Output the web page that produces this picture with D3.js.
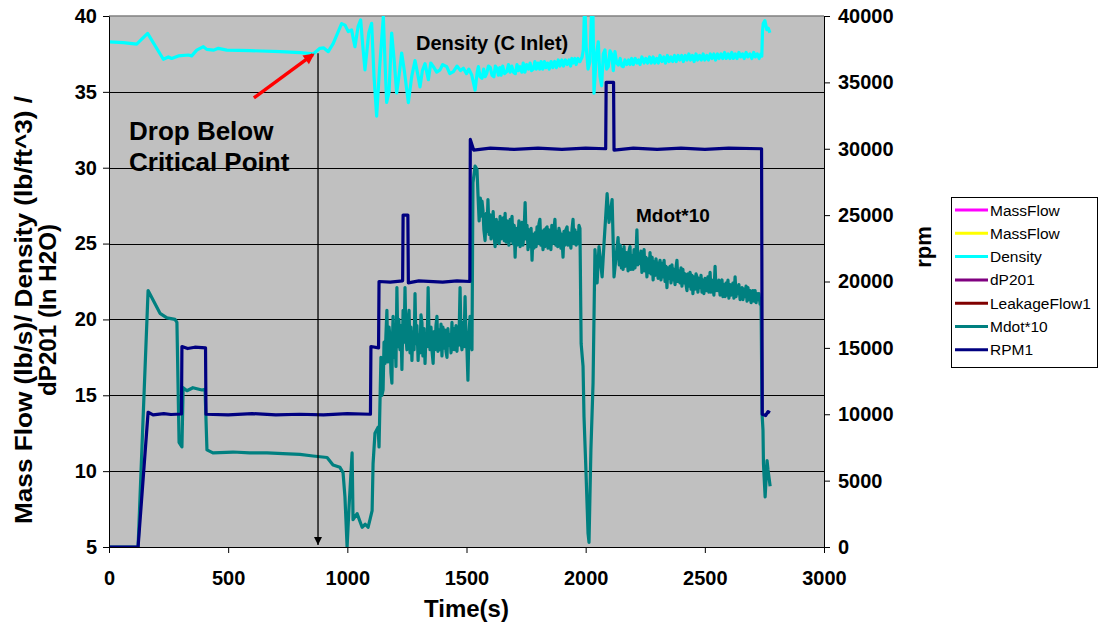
<!DOCTYPE html>
<html>
<head>
<meta charset="utf-8">
<script src="https://cdn.jsdelivr.net/npm/d3@7"></script>
<style>
  body { margin: 0; background: #fff; }
  text { font-family: "Liberation Sans", Arial, sans-serif; }
</style>
</head>
<body>
<svg id="chart"></svg>
<script>
// Chart size
const width = 1099;
const height = 628;
const margin = { top: 16, right: 275, bottom: 81, left: 109 };

// Axis ticks
const xTicks = [0, 500, 1000, 1500, 2000, 2500, 3000];
const leftTicks = [5, 10, 15, 20, 25, 30, 35, 40];
const rightTicks = [0, 5000, 10000, 15000, 20000, 25000, 30000, 35000, 40000];

// Legend entries (only Density, Mdot*10 and RPM1 show up in the plot)
const legendNames = ["MassFlow", "MassFlow", "Density", "dP201", "LeakageFlow1", "Mdot*10", "RPM1"];
const legendColors = ["#ff00ff", "#ffff00", "#00ffff", "#800080", "#800000", "#008080", "#000080"];

// Density (C Inlet), lb/ft^3 - [time, value]
const density = [[1,38.3],[60,38.25],[116,38.15],[162,38.85],[228,37.15],[249,37.3],[263,37.2],[291,37.37],[333,37.43],[347,37.37],[368,37.75],[396,37.98],[410,37.8],[438,37.75],[459,37.87],[494,37.75],[592,37.72],[718,37.65],[802,37.58],[857,37.5],[885,37.87],[900,37.9],[920,37.65],[941,38.2],[976,39.5],[990,39.4],[1004,38.97],[1018,39.08],[1025,38.5],[1032,37.98],[1045,39.3],[1056,39.74],[1065,38.0],[1074,36.45],[1090,38.9],[1102,39.52],[1112,36.0],[1123,33.4],[1135,36.5],[1151,39.96],[1158,37.0],[1165,34.3],[1175,35.0],[1186,38.88],[1197,37.0],[1207,34.93],[1218,36.2],[1228,37.56],[1240,36.3],[1256,34.29],[1270,36.0],[1284,37.06],[1295,36.2],[1305,35.33],[1315,36.4],[1326,36.86],[1340,35.8],[1350,36.9],[1361,36.66],[1375,36.3],[1389,36.45],[1400,36.8],[1417,36.66],[1430,36.2],[1445,36.33],[1460,36.7],[1475,36.4],[1487,36.56],[1500,36.2],[1510,36.5],[1522,36.11],[1536,35.12],[1545,36.3],
  [1550,36.66],[1557,36.0],[1565,35.9],[1572,36.5],[1578,36.0],[1585,36.23],[1592,36.7],[1600,36.6],[1607,36.1],[1615,36.0],[1621,36.7],[1627,36.56],[1634,36.1],[1640,36.6],[1645,36.1],[1652,36.7],[1660,36.2],[1669,36.33],[1676,36.8],[1683,36.3],[1690,36.7],[1697,36.3],[1705,36.2],[1712,36.8],[1718,36.4],[1725,36.66],[1732,36.3],[1738,36.9],[1745,36.3],[1752,36.8],[1760,36.5],[1767,36.9],[1773,36.4],[1780,36.5],[1787,37.0],[1793,36.5],[1800,36.9],[1807,36.5],[1813,37.0],[1820,36.5],[1827,37.0],[1833,36.6],[1840,36.9],[1847,36.5],[1855,37.0],[1862,36.6],[1870,37.0],[1877,36.6],[1885,37.1],[1892,36.7],[1900,37.1],[1907,36.7],[1915,37.1],[1922,36.8],[1930,37.1],[1937,36.7],[1942,37.2],[1948,36.9],[1955,37.2],[1960,36.8],[1968,37.2],[1976,36.99],[1985,37.3],[1990,37.76],
  [1996,41],[2002,38.0],[2010,36.5],[2018,37.0],[2026,41],[2030,41],[2035,34.91],[2045,37.5],[2053,38.3],[2060,36.0],[2067,35.4],[2074,37.5],[2081,37.76],[2088,36.5],[2095,36.66],[2102,37.7],[2109,37.5],[2116,36.4],[2123,37.65],
  [2130,36.9],[2137,36.77],[2145,37.2],[2152,36.7],[2158,36.66],[2165,37.1],[2172,36.8],[2180,37.1],[2186,36.8],[2193,37.2],[2200,36.8],[2208,37.2],[2215,36.9],[2222,37.1],[2228,36.8],[2236,37.3],[2245,36.9],[2252,37.2],[2260,36.9],[2268,37.3],[2275,36.9],[2283,37.3],[2290,36.9],[2298,37.2],[2305,36.9],[2312,37.4],[2320,37.0],[2328,37.3],[2335,36.9],[2343,37.4],[2350,37.0],[2358,37.3],[2365,37.0],[2373,37.4],[2380,37.0],[2388,37.4],[2395,37.1],[2403,37.4],[2410,37.0],[2418,37.4],[2425,37.1],[2433,37.5],[2440,37.1],[2448,37.4],[2455,37.0],[2463,37.5],[2470,37.1],[2478,37.4],[2485,37.1],[2493,37.5],[2500,37.1],[2508,37.4],[2515,37.1],[2523,37.5],[2530,37.2],[2538,37.5],[2545,37.1],[2553,37.5],[2560,37.2],[2568,37.5],[2575,37.2],[2583,37.6],[2590,37.2],[2598,37.5],[2605,37.2],[2613,37.6],[2620,37.2],[2628,37.5],[2635,37.2],[2643,37.6],[2650,37.3],[2658,37.5],[2665,37.2],[2673,37.6],[2680,37.3],[2689,37.5],[2697,37.2],[2705,37.6],[2712,37.3],[2720,37.5],[2728,37.2],[2735,37.5],[2739,37.35],
  [2742,39.0],[2745,39.5],[2752,39.7],[2760,39.1],[2766,39.2],[2773,38.9]];

// Mdot*10 - [time, value]
const mdot = [[0,5],[122,5],[164,21.9],[214,20.4],[243,20.1],[277,20.0],[285,19.8],[294,11.9],[306,11.6],[311,15.5],[327,15.3],[352,15.5],[390,15.35],[403,15.4],[411,11.4],[436,11.2],[520,11.26],[590,11.2],[663,11.2],[730,11.15],[801,11.1],[856,11.0],[915,10.9],[940,10.4],[969,10.25],[982,9.9],[990,8.3],[999,5.0],[1007,7.6],[1020,11.2],[1024,6.8],[1041,7.2],[1062,6.3],[1075,6.5],[1087,6.3],[1095,6.8],[1104,7.4],[1108,10.5],[1116,12.5],[1129,12.9],[1133,11.6],
  [1141,17.5],[1145,15.0],[1150,15.35],[1154,18.5],[1158,17.1],[1162,19.0],[1166,20.6],[1170,17.2],[1175,19.5],[1179,18.8],[1183,16.5],[1187,15.8],[1190,19.0],[1192,20.2],[1196,17.5],[1200,19.2],[1204,16.9],[1208,22.1],[1212,18.2],[1216,20.0],[1221,18.0],[1225,19.6],[1229,16.7],[1234,20.6],[1238,18.5],[1242,22.1],[1246,18.8],[1250,18.0],[1254,19.8],[1259,20.6],[1263,17.8],[1267,19.5],[1271,17.3],[1275,19.2],[1280,18.0],[1284,21.7],[1288,18.4],[1292,19.6],[1297,17.3],[1301,19.0],[1305,17.8],[1309,20.3],[1313,19.8],[1317,17.6],[1322,19.4],[1326,17.1],[1330,19.0],[1335,18.2],[1339,22.1],[1343,18.9],[1347,18.0],[1351,19.5],[1356,17.8],[1360,17.1],[1364,19.2],[1368,18.0],[1372,19.6],[1376,20.2],[1380,17.9],[1385,19.3],[1389,18.0],[1393,19.7],[1397,17.6],[1401,19.5],[1405,18.1],[1410,19.3],[1414,17.9],[1418,17.5],[1422,19.4],[1427,18.3],[1431,19.0],[1435,17.8],[1439,19.8],[1443,18.0],[1448,19.4],[1452,18.0],[1456,19.6],[1460,17.9],[1464,19.2],[1468,18.3],[1473,22.1],[1477,18.6],[1481,18.0],[1485,19.8],[1489,18.2],[1494,21.5],[1498,18.7],[1502,18.0],[1506,16.0],[1510,19.0],[1515,20.2],[1519,18.5],[1523,18.0],
  [1527,29.0],[1536,30.1],[1544,29.9],
  [1548,28.3],[1553,26.5],[1558,28.0],[1561,26.8],[1565,27.8],[1569,27.2],[1573,25.9],[1578,25.2],[1583,27.0],[1586,25.8],[1590,27.9],[1595,25.6],[1600,26.9],[1603,25.3],[1607,26.1],[1612,27.1],[1616,25.5],[1620,24.8],[1625,26.6],[1628,25.1],[1632,26.4],[1637,25.0],[1641,26.8],[1645,25.3],[1649,25.4],[1654,26.7],[1658,25.2],[1662,27.0],[1666,25.1],[1670,26.5],[1674,25.9],[1678,24.9],[1683,26.6],[1687,25.2],[1691,26.8],[1695,25.0],[1700,26.2],[1704,24.1],[1708,26.0],[1712,24.9],[1716,25.4],[1720,26.5],[1725,24.8],[1729,26.1],[1733,26.4],[1737,24.9],[1742,26.0],[1746,27.7],[1750,25.3],[1754,26.2],[1758,24.6],[1762,25.9],[1767,24.8],[1771,26.0],[1775,23.9],[1779,25.6],[1783,24.7],[1788,25.7],[1792,24.8],[1796,26.1],[1800,25.0],[1804,26.3],[1808,26.6],[1812,24.9],[1816,25.8],[1821,24.6],[1825,25.9],[1829,24.8],[1833,26.0],[1838,26.1],[1842,24.7],[1846,25.9],[1850,25.4],[1854,24.6],[1858,26.2],[1862,25.0],[1867,25.9],[1871,26.6],[1875,24.9],[1879,25.8],[1883,24.8],[1888,26.0],[1892,25.7],[1896,24.7],[1900,25.6],[1905,24.1],[1909,25.8],[1913,24.9],[1917,25.9],[1922,26.1],[1926,24.9],[1930,25.7],[1934,25.2],[1938,24.7],[1943,26.0],[1947,26.6],[1951,25.0],[1955,25.9],[1960,24.9],[1964,25.7],[1968,25.0],[1972,26.2],[1976,26.0],
  [1981,18.4],[1989,16.9],[1993,13.6],[2001,10.1],[2010,5.9],[2014,5.3],[2022,11.4],[2031,15.8],[2039,24.6],[2048,22.4],[2056,24.8],[2069,22.8],[2077,25.0],[2090,28.3],[2098,26.4],[2111,27.9],[2119,22.8],[2132,24.8],
  [2136,25.4],[2141,23.6],[2145,24.9],[2150,23.4],[2153,24.6],[2157,23.3],[2161,24.8],[2165,23.5],[2170,24.4],[2174,24.1],[2178,23.2],[2182,24.5],[2186,24.8],[2190,23.3],[2195,24.2],[2199,23.3],[2203,24.6],[2207,23.4],[2211,24.2],[2215,25.9],[2219,23.6],[2224,24.3],[2228,23.7],[2232,24.5],[2236,23.1],[2241,23.9],[2245,24.6],[2249,23.2],[2253,24.1],[2257,22.8],[2262,24.0],[2266,23.1],[2270,24.4],[2274,23.0],[2279,24.1],[2283,22.6],[2287,23.8],[2291,22.9],[2295,24.0],[2299,23.5],[2304,22.7],[2308,23.6],[2312,23.9],[2316,22.6],[2321,23.7],[2325,22.8],[2329,23.9],[2333,22.5],[2337,23.5],[2341,22.1],[2345,23.4],[2350,22.7],[2354,23.5],[2358,22.4],[2362,23.6],[2366,22.6],[2370,23.3],[2375,22.3],[2379,23.4],[2383,23.9],[2387,22.5],[2391,23.2],[2396,22.4],[2400,23.4],[2404,22.2],[2408,23.3],[2412,22.4],[2417,23.0],[2421,22.3],[2425,21.9],[2429,23.0],[2433,22.2],[2438,23.1],[2442,22.0],[2446,22.9],[2450,21.7],[2454,22.8],[2459,22.0],[2463,23.0],[2467,22.8],[2471,21.8],[2475,22.7],[2480,22.1],[2484,22.9],[2488,21.8],[2492,22.6],[2496,21.7],[2501,22.7],[2505,21.9],[2509,21.9],[2513,22.8],[2517,21.8],[2522,23.1],[2526,21.8],[2530,22.6],[2534,22.1],[2538,21.6],[2543,23.5],[2547,21.9],[2551,22.5],[2555,21.9],[2559,22.6],[2564,21.6],[2568,22.4],[2572,22.6],[2576,21.5],[2580,22.3],[2585,21.5],[2589,22.4],[2593,21.6],[2597,22.6],[2601,21.4],[2606,22.3],[2610,21.6],[2614,21.7],[2618,22.4],[2622,21.4],[2627,22.8],[2631,21.5],[2635,22.2],[2639,21.7],[2643,22.3],[2648,21.3],[2652,22.0],[2656,22.1],[2660,21.3],[2664,22.0],[2669,21.5],[2673,22.2],[2677,21.2],[2681,22.1],[2685,21.3],[2690,21.9],[2694,21.1],[2698,21.5],[2702,21.9],[2706,21.2],[2711,21.9],[2715,21.1],[2719,21.7],[2723,21.3],[2727,21.7],[2732,21.0],[2736,21.1],
  [2740,13.8],[2744,12.7],[2746,10.5],[2753,8.3],[2761,10.7],[2765,10.1],[2774,9.0]];

// RPM1 (right axis) - [time, rpm]
const rpm = [[0,0],[122,0],[164,10150],[185,9950],[230,10050],[260,9980],[304,10020],[306,15100],[330,14950],[360,15050],[405,15000],[407,10000],[500,9950],[600,10050],[700,9950],[800,10000],[900,9950],[1000,10050],[1097,10000],[1099,15100],[1131,15000],[1133,20000],[1180,19950],[1232,20050],[1234,25000],[1254,25000],[1256,19900],[1300,20050],[1400,19950],[1460,20050],[1514,20000],[1516,30700],[1530,29900],[1600,30050],[1700,29950],[1800,30050],[1900,29950],[2000,30050],[2084,30000],[2086,35000],[2117,35000],[2119,29900],[2200,30050],[2300,29950],[2400,30050],[2500,29950],[2600,30050],[2738,30000],[2741,10000],[2755,9900],[2765,10200],[2773,10100]];

// Annotation anchors in data units
const dropTime = 877;
const dropTop = 37.55;
const redArrowFrom = [608, 34.6];
const redArrowTo = [855, 37.45];

const svg = d3.select("#chart").attr("width", width).attr("height", height);

const x = d3.scaleLinear().domain([0, 3000]).range([margin.left, width - margin.right]);
const yL = d3.scaleLinear().domain([5, 40]).range([height - margin.bottom, margin.top]);
const yR = d3.scaleLinear().domain([0, 40000]).range([height - margin.bottom, margin.top]);

const plotLeft = x.range()[0], plotRight = x.range()[1];
const plotTop = yL.range()[1], plotBottom = yL.range()[0];

// Plot background
svg.append("rect")
    .attr("x", plotLeft).attr("y", plotTop)
    .attr("width", plotRight - plotLeft).attr("height", plotBottom - plotTop)
    .attr("fill", "#c0c0c0");

svg.append("line")
    .attr("x1", plotLeft).attr("x2", plotRight).attr("y1", plotTop).attr("y2", plotTop)
    .attr("stroke", "#808080").attr("stroke-width", 1.5);

// Gridlines follow the left axis
svg.append("g").selectAll("line")
    .data(leftTicks.filter(d => d > 5 && d < 40))
    .enter().append("line")
    .attr("x1", plotLeft).attr("x2", plotRight)
    .attr("y1", d => Math.round(yL(d)) + 0.5).attr("y2", d => Math.round(yL(d)) + 0.5)
    .attr("stroke", "#000").attr("stroke-width", 1);

svg.append("defs").append("clipPath").attr("id", "plotClip")
    .append("rect").attr("x", plotLeft).attr("y", plotTop)
    .attr("width", plotRight - plotLeft).attr("height", plotBottom - plotTop);

const plot = svg.append("g").attr("clip-path", "url(#plotClip)");

const lineL = d3.line().x(d => x(d[0])).y(d => yL(d[1]));
const lineR = d3.line().x(d => x(d[0])).y(d => yR(d[1]));

plot.append("path").datum(density).attr("d", lineL)
    .attr("fill", "none").attr("stroke", "#00ffff").attr("stroke-width", 3.2).attr("stroke-linejoin", "round");
plot.append("path").datum(mdot).attr("d", lineL)
    .attr("fill", "none").attr("stroke", "#008080").attr("stroke-width", 3.2).attr("stroke-linejoin", "round");
plot.append("path").datum(rpm).attr("d", lineR)
    .attr("fill", "none").attr("stroke", "#000080").attr("stroke-width", 3.2).attr("stroke-linejoin", "round");

// Axes
const axisFont = "bold 20px 'Liberation Sans', Arial, sans-serif";
const fmt = d3.format("d");

const gx = svg.append("g").attr("transform", `translate(0,${plotBottom})`)
    .call(d3.axisBottom(x).tickValues(xTicks).tickFormat(fmt).tickSize(6).tickSizeOuter(0).tickPadding(18));
const gl = svg.append("g").attr("transform", `translate(${plotLeft},0)`)
    .call(d3.axisLeft(yL).tickValues(leftTicks).tickFormat(fmt).tickSize(6).tickSizeOuter(0).tickPadding(6));
const gr = svg.append("g").attr("transform", `translate(${plotRight},0)`)
    .call(d3.axisRight(yR).tickValues(rightTicks).tickFormat(fmt).tickSize(6).tickSizeOuter(0).tickPadding(8));

[gx, gl, gr].forEach(g => {
    g.selectAll("text").style("font", axisFont).attr("fill", "#000");
    g.selectAll("line").attr("stroke", "#000");
    g.select(".domain").attr("stroke", "#000");
});

// Axis titles
svg.append("text")
    .attr("x", (plotLeft + plotRight) / 2).attr("y", 617)
    .attr("text-anchor", "middle").style("font", "bold 24px 'Liberation Sans', Arial, sans-serif")
    .text("Time(s)");

const yTitleFont = "bold 24px 'Liberation Sans', Arial, sans-serif";
svg.append("text")
    .attr("transform", "translate(32,310) rotate(-90)")
    .attr("text-anchor", "middle").style("font", yTitleFont)
    .attr("textLength", 428).attr("lengthAdjust", "spacingAndGlyphs")
    .text("Mass Flow (lb/s)/ Density (lb/ft^3) /");
svg.append("text")
    .attr("transform", "translate(56,310) rotate(-90)")
    .attr("text-anchor", "middle").style("font", yTitleFont)
    .attr("textLength", 172).attr("lengthAdjust", "spacingAndGlyphs")
    .text("dP201 (In H2O)");

svg.append("text")
    .attr("transform", "translate(931,247) rotate(-90)")
    .attr("text-anchor", "middle").style("font", "bold 22px 'Liberation Sans', Arial, sans-serif")
    .text("rpm");

// Annotations
const defs = svg.append("defs");
defs.append("marker")
    .attr("id", "blackHead").attr("viewBox", "0 0 10 10")
    .attr("refX", 10).attr("refY", 5)
    .attr("markerWidth", 10).attr("markerHeight", 8).attr("orient", "auto")
    .attr("markerUnits", "userSpaceOnUse")
    .append("path").attr("d", "M0,0 L10,5 L0,10 Z").attr("fill", "#000");
defs.append("marker")
    .attr("id", "redHead").attr("viewBox", "0 0 10 10")
    .attr("refX", 8).attr("refY", 5)
    .attr("markerWidth", 12).attr("markerHeight", 11).attr("orient", "auto")
    .attr("markerUnits", "userSpaceOnUse")
    .append("path").attr("d", "M0,0 L10,5 L0,10 Z").attr("fill", "#ff0000");

svg.append("line")
    .attr("x1", x(dropTime)).attr("x2", x(dropTime))
    .attr("y1", yL(dropTop)).attr("y2", yL(5) - 2)
    .attr("stroke", "#000").attr("stroke-width", 1.3)
    .attr("marker-end", "url(#blackHead)");

svg.append("line")
    .attr("x1", x(redArrowFrom[0])).attr("y1", yL(redArrowFrom[1]))
    .attr("x2", x(redArrowTo[0])).attr("y2", yL(redArrowTo[1]))
    .attr("stroke", "#ff0000").attr("stroke-width", 3.5)
    .attr("marker-end", "url(#redHead)");

const noteFont = "bold 26px 'Liberation Sans', Arial, sans-serif";
svg.append("text").attr("x", 129).attr("y", 140).style("font", noteFont).text("Drop Below");
svg.append("text").attr("x", 129).attr("y", 171).style("font", noteFont).text("Critical Point");

svg.append("text").attr("x", 416).attr("y", 50)
    .style("font", "bold 20px 'Liberation Sans', Arial, sans-serif").text("Density (C Inlet)");
svg.append("text").attr("x", 636).attr("y", 222)
    .style("font", "bold 19px 'Liberation Sans', Arial, sans-serif").text("Mdot*10");

// Legend
const legend = svg.append("g");
legend.append("rect")
    .attr("x", 951.5).attr("y", 197.5).attr("width", 146).attr("height", 170)
    .attr("fill", "#fff").attr("stroke", "#000").attr("stroke-width", 1);

const items = legend.selectAll("g.item")
    .data(legendNames.map((n, i) => ({ name: n, color: legendColors[i] })))
    .enter().append("g")
    .attr("transform", (d, i) => `translate(955,${210 + i * 23.3})`);
items.append("line")
    .attr("x1", 0).attr("x2", 33).attr("y1", 0).attr("y2", 0)
    .attr("stroke", d => d.color).attr("stroke-width", 3);
items.append("text")
    .attr("x", 35).attr("y", 5.5)
    .style("font", "15.5px 'Liberation Sans', Arial, sans-serif")
    .text(d => d.name);
</script>
</body>
</html>
